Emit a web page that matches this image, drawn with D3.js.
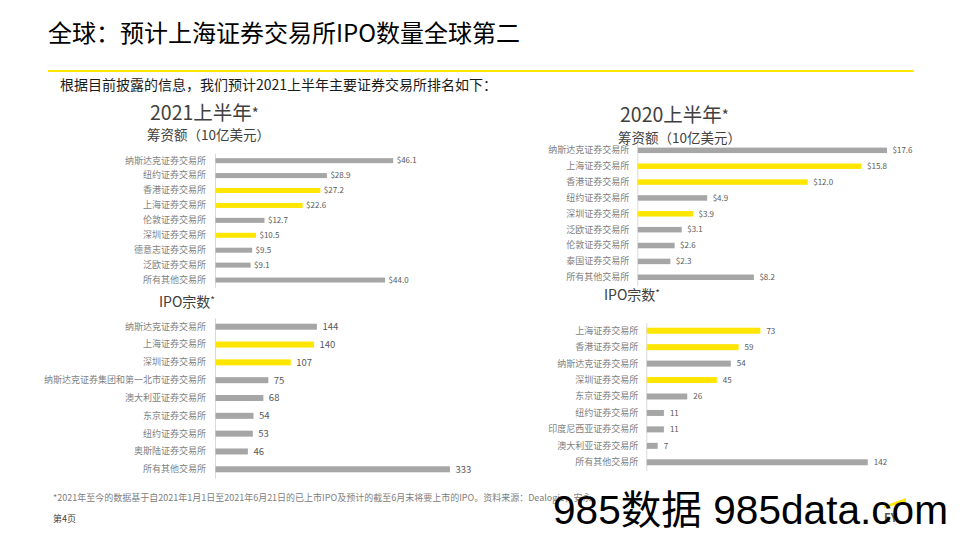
<!DOCTYPE html>
<html><head><meta charset="utf-8">
<script src="https://cdn.jsdelivr.net/npm/d3@7"></script>
<style>
body{margin:0;background:#fff}
svg{display:block}
text{font-family:"Noto Sans CJK SC","Noto Sans",sans-serif}
</style>
</head><body>
<svg id="c" width="960" height="540"></svg>
<script>
// ---- data ----
const fund2021Cats = ["纳斯达克证券交易所","纽约证券交易所","香港证券交易所","上海证券交易所","伦敦证券交易所","深圳证券交易所","德意志证券交易所","泛欧证券交易所","所有其他交易所"];
const fund2021Vals = [46.1, 28.9, 27.2, 22.6, 12.7, 10.5, 9.5, 9.1, 44.0];

const ipo2021Cats = ["纳斯达克证券交易所","上海证券交易所","深圳证券交易所","纳斯达克证券集团和第一北市证券交易所","澳大利亚证券交易所","东京证券交易所","纽约证券交易所","奥斯陆证券交易所","所有其他交易所"];
const ipo2021Vals = [144, 140, 107, 75, 68, 54, 53, 46, 333];

const fund2020Cats = ["纳斯达克证券交易所","上海证券交易所","香港证券交易所","纽约证券交易所","深圳证券交易所","泛欧证券交易所","伦敦证券交易所","泰国证券交易所","所有其他交易所"];
const fund2020Vals = [17.6, 15.8, 12.0, 4.9, 3.9, 3.1, 2.6, 2.3, 8.2];

const ipo2020Cats = ["上海证券交易所","香港证券交易所","纳斯达克证券交易所","深圳证券交易所","东京证券交易所","纽约证券交易所","印度尼西亚证券交易所","澳大利亚证券交易所","所有其他交易所"];
const ipo2020Vals = [73, 59, 54, 45, 26, 11, 11, 7, 142];

const highlightCats = ["上海证券交易所","深圳证券交易所","香港证券交易所"];

// ---- drawing ----
const svg = d3.select("#c");
svg.append("rect").attr("width",960).attr("height",540).attr("fill","#fff");

const YELLOW = "#ffe600", GRAY = "#a6a6a6";

function panel(o){
  const g = svg.append("g");
  const y = d3.scaleBand().domain(o.cats).range(o.yRange).padding(0);
  const x = d3.scaleLinear().domain([0, o.dmax]).range([o.x0, o.x0 + o.w]);
  const ax = g.append("g").attr("transform",`translate(${o.x0},0)`)
    .call(d3.axisLeft(y).tickSize(0).tickSizeOuter(0).tickPadding(o.pad));
  ax.select(".domain").attr("stroke","#d9d9d9").attr("stroke-width",1);
  ax.selectAll(".tick text").attr("fill","#7f7f7f")
    .style("font-size","9px");
  const data = o.cats.map((c,i)=>({c, v:o.vals[i]}));
  g.selectAll("rect.bar").data(data).join("rect")
    .attr("x", x(0)+0.5)
    .attr("y", d => y(d.c) + y.bandwidth()/2 - o.bh/2)
    .attr("width", d => x(d.v) - x(0))
    .attr("height", o.bh)
    .attr("fill", d => highlightCats.includes(d.c) ? YELLOW : GRAY);
  g.selectAll("text.val").data(data).join("text")
    .attr("x", d => x(d.v) + o.gap)
    .attr("y", d => y(d.c) + y.bandwidth()/2)
    .attr("dy","0.35em")
    .attr("fill","#595959")
    .style("font-size", o.vfs + "px")
    .text(d => o.fmt(d.v));
}

const fmtMoney = v => "$" + d3.format(".1f")(v);
const fmtInt = v => d3.format("d")(v);

panel({cats:fund2021Cats, vals:fund2021Vals, yRange:[153.2,287.5], x0:215, w:192.75, dmax:50, bh:5, pad:9, gap:4, vfs:8, fmt:fmtMoney});
panel({cats:ipo2021Cats, vals:ipo2021Vals, yRange:[317.8,478.2], x0:215, w:246.4, dmax:350, bh:6, pad:9, gap:6, vfs:9.5, fmt:fmtInt});
panel({cats:fund2020Cats, vals:fund2020Vals, yRange:[142.4,285.2], x0:637.3, w:283.2, dmax:20, bh:5.5, pad:8, gap:6, vfs:8, fmt:fmtMoney});
panel({cats:ipo2020Cats, vals:ipo2020Vals, yRange:[322.5,470.5], x0:646.3, w:233.4, dmax:150, bh:6, pad:8, gap:6.5, vfs:8, fmt:fmtInt});

// ---- texts ----
function txt(x,y,s,size,fill,extra){
  const t = svg.append("text").attr("x",x).attr("y",y).attr("fill",fill)
    .style("font-size",size+"px").text(s);
  if(extra) extra(t);
  return t;
}
function starTitle(x,y,s,size,starSize,starDy){
  const t = svg.append("text").attr("x",x).attr("y",y).attr("fill","#404040")
    .style("font-size",size+"px");
  t.append("tspan").text(s);
  t.append("tspan").attr("dy",starDy).style("font-size",starSize+"px").text("*");
  return t;
}
txt(48,42,"全球：预计上海证券交易所IPO数量全球第二",24,"#000");
svg.append("line").attr("x1",48).attr("x2",914).attr("y1",71).attr("y2",71)
  .attr("stroke",YELLOW).attr("stroke-width",2);
txt(60,90,"根据目前披露的信息，我们预计2021上半年主要证券交易所排名如下：",14,"#1a1a1a");

starTitle(150,120,"2021上半年",19.5,15,-1);
txt(147,140,"筹资额（10亿美元）",13.5,"#404040");
starTitle(159,307,"IPO宗数",14,10,-3);

starTitle(620,122,"2020上半年",19.5,15,-1);
txt(618,142.5,"筹资额（10亿美元）",13.5,"#404040");
starTitle(604,300,"IPO宗数",14,10,-3);

txt(53,501,"*2021年至今的数据基于自2021年1月1日至2021年6月21日的已上市IPO及预计的截至6月末将要上市的IPO。资料来源：Dealogic，安永",9,"#808080");
txt(53,522,"第4页",9,"#404040");

// EY logo (partially hidden under watermark, as in reference)
svg.append("polygon").attr("points","884,506 906,498 906,502 884,508").attr("fill",YELLOW);
txt(884,522,"EY",11,"#555",t=>t.style("font-weight","bold"));

// watermark
txt(553,524,"985数据 985data.com",40,"#000",t=>t
  .style("font-family","'Liberation Sans','Noto Sans CJK SC',sans-serif")
  .attr("textLength",395).attr("lengthAdjust","spacingAndGlyphs"));
</script>
</body></html>
